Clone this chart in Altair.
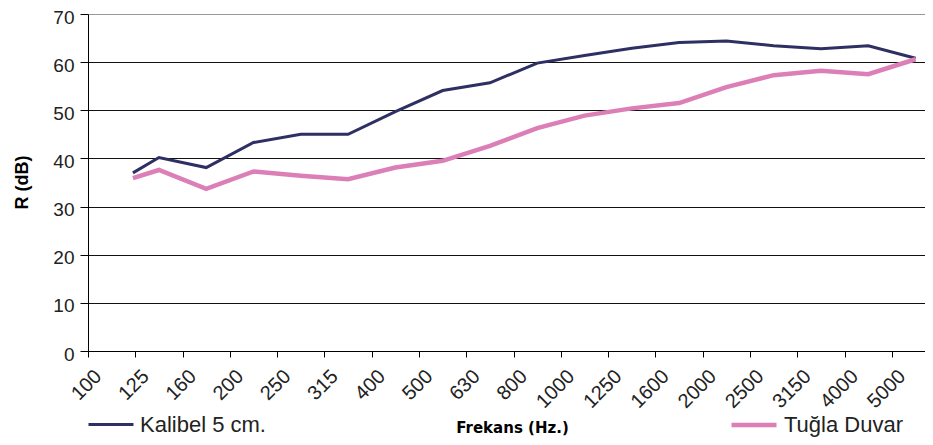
import json
import altair as alt
import pandas as pd

freq_labels = ["100", "125", "160", "200", "250", "315", "400", "500", "630",
               "800", "1000", "1250", "1600", "2000", "2500", "3150", "4000", "5000"]
# category position of each measured point (category units on the frequency axis)
band_pos = [0.95, 1.5, 2.5, 3.5, 4.5, 5.5, 6.5, 7.5, 8.5,
            9.5, 10.5, 11.5, 12.5, 13.5, 14.5, 15.5, 16.5, 17.5]
kalibel = [37.0, 40.2, 38.1, 43.3, 45.0, 45.0, 49.7, 54.1, 55.7,
           59.8, 61.4, 62.9, 64.1, 64.4, 63.4, 62.8, 63.4, 60.8]
tugla = [35.9, 37.6, 33.7, 37.3, 36.4, 35.7, 38.1, 39.5, 42.6,
         46.3, 48.9, 50.4, 51.5, 54.8, 57.3, 58.2, 57.5, 60.6]
series_names = ["Kalibel 5 cm.", "Tuğla Duvar"]
series_colors = ["#2E2F62", "#DC7FB7"]
y_ticks = [0, 10, 20, 30, 40, 50, 60, 70]

rows = []
for name, vals in zip(series_names, [kalibel, tugla]):
    for p, v in zip(band_pos, vals):
        rows.append({"series": name, "pos": p, "R": v})
df = pd.DataFrame(rows)

label_expr = json.dumps(freq_labels) + "[datum.value]"

chart = alt.Chart(df).mark_line(strokeJoin="miter").encode(
    x=alt.X("pos:Q",
            scale=alt.Scale(domain=[0, 17.7], nice=False, zero=False),
            axis=alt.Axis(values=list(range(18)), labelExpr=label_expr,
                          title="Frekans (Hz.)", grid=False,
                          labelAngle=315, labelAlign="right", labelBaseline="middle",
                          labelOffset=10, labelPadding=16,
                          labelFont="Liberation Sans", labelFontSize=20, labelColor="#222",
                          tickSize=6, tickColor="#000", domainColor="#000",
                          titleFont="DejaVu Sans", titleFontSize=15, titleFontWeight="bold",
                          titleColor="#000", titleX=424, titleY=76,
                          titleBaseline="middle", titleAlign="center")),
    y=alt.Y("R:Q",
            scale=alt.Scale(domain=[0, 70], nice=False),
            axis=alt.Axis(values=y_ticks, title="R (dB)",
                          labelFont="Liberation Sans", labelFontSize=19, labelColor="#222",
                          labelPadding=6, labelOffset=3,
                          tickSize=8, tickColor="#000", domainColor="#000",
                          gridColor={"condition": {"test": "datum.value == 70", "value": "#999999"},
                                     "value": "#111111"},
                          gridWidth=1,
                          titleFont="Liberation Sans", titleFontSize=18, titleFontWeight="bold",
                          titleColor="#000", titleX=-66, titleY=168, titleAngle=270,
                          titleBaseline="middle", titleAlign="center")),
    color=alt.Color("series:N",
                    scale=alt.Scale(domain=series_names, range=series_colors),
                    legend=alt.Legend(title=None, orient="none", legendX=-1, legendY=386,
                                      direction="horizontal", symbolType="stroke",
                                      symbolSize=2025, symbolStrokeWidth=4,
                                      labelFont="Liberation Sans", labelFontSize=22,
                                      labelColor="#222", labelOffset=5,
                                      columnPadding=456)),
    strokeWidth=alt.StrokeWidth("series:N",
                                scale=alt.Scale(domain=series_names, range=[3, 4.5]),
                                legend=None),
    order="pos:Q",
).properties(
    width=837, height=337,
    autosize=alt.AutoSizeParams(type="none"),
    padding={"left": 80, "top": 6, "right": 0, "bottom": 86},
).configure_view(stroke=None)

chart.save("out.html", embed_options={"renderer": "svg", "actions": False})
